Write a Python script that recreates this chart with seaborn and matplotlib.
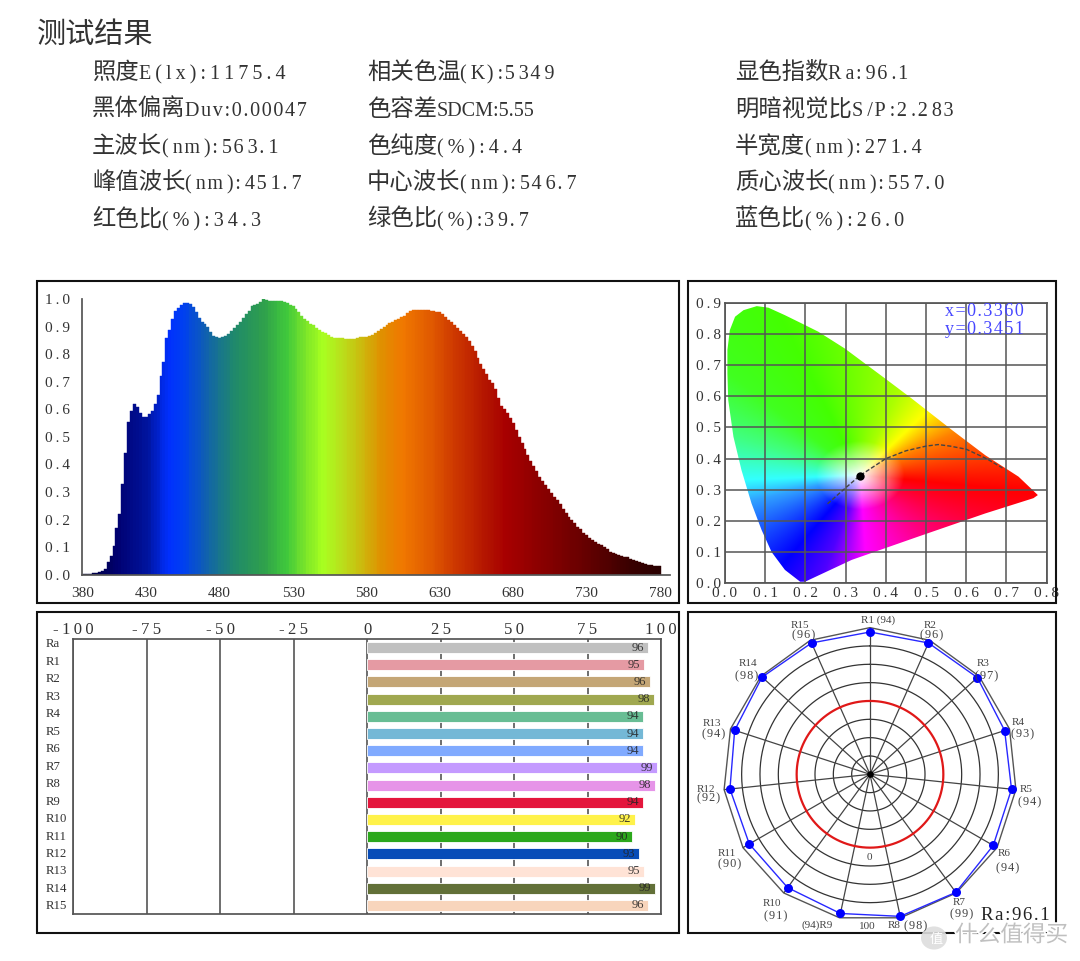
import numpy as np
import seaborn as sns
import matplotlib.pyplot as plt
import matplotlib.patheffects as pe
from matplotlib.colors import LinearSegmentedColormap
from matplotlib.patches import Rectangle, Polygon, Circle

W, H = 1080, 961
HAIR, THIN = '\u200a', '\u2009'

# header table
title = '测试结果'
col1 = ['照度E(lx):1175.4', '黑体偏离Duv:0.00047', '主波长(nm):563.1', '峰值波长(nm):451.7', '红色比(%):34.3']
col2 = ['相关色温(K):5349', '色容差SDCM:5.55', '色纯度(%):4.4', '中心波长(nm):546.7', '绿色比(%):39.7']
col3 = ['显色指数Ra:96.1', '明暗视觉比S/P:2.283', '半宽度(nm):271.4', '质心波长(nm):557.0', '蓝色比(%):26.0']
# letter spacing per row: T thin, M mixed, H hair, N none
col1_sp = 'THMMT'
col2_sp = 'MNTMM'
col3_sp = 'MMMMT'

# spectrum, 2 nm bins from 386 nm
wavelength = list(range(386, 782, 2))
intensity = [
    .000, .001, .002, .004, .005, .006, .008, .012, .020, .045, .068, .105, .168, .220, .330, .440,
    .555, .595, .620, .610, .585, .573, .573, .582, .592, .620, .650, .720, .770, .857, .888, .928,
    .955, .966, .980, .987, .987, .982, .970, .954, .930, .918, .910, .897, .880, .865, .861, .860,
    .861, .867, .873, .885, .895, .906, .918, .930, .945, .958, .973, .980, .983, .990, .999, .995,
    .993, .993, .993, .993, .993, .988, .984, .980, .975, .965, .953, .940, .928, .920, .910, .904,
    .896, .888, .880, .876, .868, .861, .860, .860, .860, .857, .854, .854, .854, .856, .860, .862,
    .862, .863, .866, .870, .877, .884, .892, .898, .904, .913, .918, .923, .928, .934, .940, .950,
    .957, .959, .960, .960, .960, .960, .960, .958, .955, .954, .953, .945, .935, .925, .916, .905,
    .895, .885, .874, .863, .847, .830, .810, .785, .766, .745, .727, .705, .695, .675, .640, .613,
    .600, .587, .567, .549, .526, .500, .478, .457, .434, .414, .394, .376, .355, .340, .327, .312,
    .297, .283, .270, .256, .240, .225, .210, .197, .186, .174, .164, .153, .143, .133, .126, .118,
    .111, .106, .099, .092, .083, .077, .075, .071, .068, .066, .063, .058, .054, .051, .047, .043,
    .040, .036, .034, .033, .033, .033]
spec_nm = [386, 410, 430, 445, 455, 470, 490, 510, 525, 540, 550, 560, 575, 590, 605, 625, 645, 665, 675, 700, 730, 760, 780]
spec_col = ['#000038', '#000070', '#00149e', '#0030ff', '#0040f0', '#1060b0', '#208a6a', '#2fa04c', '#40c83c', '#80e828',
            '#a8ff20', '#b5e81e', '#c9c010', '#e09000', '#f07800', '#e05800', '#c83000', '#b01000', '#a80000', '#8a0000',
            '#660000', '#3a0000', '#2a0000']
spec_ticks = [386.4, 430, 480, 530, 580, 630, 680, 730, 780]
spec_labels = ['380', '430', '480', '530', '580', '630', '680', '730', '780']

# chromaticity diagram
locus_x = [.187, .149, .116, .091, .066, .041, .021, .008, .006, .006, .012, .025, .046, .079, .108, .149, .190, .232, .298,
           .398, .464, .564, .647, .730, .778, .767, .647, .481, .315, .199]
locus_y = [.005, .043, .100, .171, .256, .363, .470, .588, .673, .748, .812, .855, .876, .889, .884, .860, .834, .807, .753,
           .657, .593, .492, .411, .342, .283, .273, .224, .150, .075, .005]
planck_x = [.255, .290, .335, .400, .450, .500, .530, .560, .600, .650, .690]
planck_y = [.255, .295, .345, .400, .425, .440, .445, .440, .430, .400, .370]
cie_x, cie_y = 0.3360, 0.3451
hue_deg = [-7, 30, 51, 71, 111, 135, 158, 183, 197, 236, 254, 273, 310, 331, 353]
hue_col = ['#ff0000', '#ff8000', '#ffff00', '#aaff00', '#44ff00', '#40ff20', '#40ff80', '#33ffff', '#30a0ff',
           '#0000ff', '#5000ff', '#ff00ff', '#ff0080', '#ff0040', '#ff0000']

# colour rendering indices
cri_names = ['Ra'] + [f'R{i}' for i in range(1, 16)]
cri_bars = [95.6, 94.3, 96.3, 97.5, 93.8, 93.8, 93.8, 98.6, 98.1, 93.8, 91.3, 90.0, 92.4, 94.3, 98.1, 95.6]
cri_text = [96, 95, 96, 98, 94, 94, 94, 99, 98, 94, 92, 90, 93, 95, 99, 96]
cri_col = ['#c0c0c0', '#e59aa3', '#c4a676', '#a0a850', '#68bd94', '#74b8d6', '#80aaff', '#c49aff', '#e694e8', '#e4163c',
           '#fff24a', '#2ca81c', '#074cb8', '#ffe3d6', '#627038', '#f8d5bc']
cri_ticks = [-100, -75, -50, -25, 0, 25, 50, 75, 100]

# radar
radar_vals = [94, 96, 97, 93, 94, 94, 99, 98, 94, 91, 90, 92, 94, 98, 96]
radar_labels = [
    (877.7, 620, 'R1 (94)'), (930, 625.7, 'R2'), (931.7, 635.3, '(96)'), (983, 664, 'R3'), (987, 676, '(97)'),
    (1017.7, 722.3, 'R4'), (1022.3, 734, '(93)'), (1025.7, 789, 'R5'), (1029.3, 802, '(94)'), (1003.7, 853.3, 'R6'),
    (1007.3, 868.3, '(94)'), (959.3, 902.7, 'R7'), (961.7, 914.7, '(99)'), (894, 925, 'R8'), (916, 926, '(98)'),
    (817.3, 925, '(94)R9'), (771.7, 903, 'R10'), (776, 916, '(91)'), (727.3, 853, 'R11'), (730, 864.7, '(90)'),
    (705.7, 789, 'R12'), (708.3, 798.7, '(92)'), (712.3, 723, 'R13'), (713.3, 734, '(94)'), (747.7, 663.7, 'R14'),
    (746.7, 676, '(98)'), (800.3, 625.7, 'R15'), (803.3, 635.3, '(96)'), (869, 857.3, '0'), (867.7, 926.7, '100')]

sns.set_theme(style='white')
plt.rcParams['font.family'] = ['Liberation Serif', 'Noto Sans CJK SC', 'DejaVu Sans']
plt.rcParams['axes.edgecolor'] = '#555555'
plt.rcParams['text.color'] = '#333333'
plt.rcParams['xtick.color'] = '#333333'
plt.rcParams['ytick.color'] = '#333333'

fig = plt.figure(figsize=(W / 100, H / 100), dpi=100)


def box(x0, y0, x1, y1):
    return [x0 / W, 1 - y1 / H, (x1 - x0) / W, (y1 - y0) / H]


def txt(x, y, s, **kw):
    kw.setdefault('ha', 'left')
    kw.setdefault('va', 'center')
    return fig.text(x / W, 1 - y / H, s, **kw)


def track(s, mode='T'):
    # the reference has wide letter spacing on its latin text
    seps = {'T': [THIN], 'H': [HAIR], 'M': [THIN, HAIR], 'N': ['']}[mode]
    out = ''
    for i, a in enumerate(s[:-1]):
        out += a + seps[i % len(seps)]
    return out + s[-1]


def frame(x0, y0, x1, y1):
    fig.add_artist(Rectangle((x0 / W, 1 - y1 / H), (x1 - x0) / W, (y1 - y0) / H, transform=fig.transFigure,
                             fill=False, ec='#111111', lw=1.5))


# header
txt(37, 43, title, fontsize=21, va='baseline')
CJK_PX = 23.3
for xpos, col, spacing in zip([92, 367, 735], [col1, col2, col3], [col1_sp, col2_sp, col3_sp]):
    for ypos, s, mode in zip([79, 116, 153, 189, 226], col, spacing):
        n = next(i for i, c in enumerate(s) if ord(c) < 128)
        txt(xpos, ypos, s[:n], fontsize=16.8, va='baseline')
        txt(xpos + n * CJK_PX, ypos, track(s[n:], mode), fontsize=14.5, va='baseline')

frame(37, 281, 679, 603)
frame(688, 281, 1056, 603)
frame(37, 612, 679, 933)
frame(688, 612, 1056, 933)

# spectrum
ax1 = fig.add_axes(box(82.3, 299, 670, 574.7))
cmap = LinearSegmentedColormap.from_list('spec', [((n - 386) / 394, c) for n, c in zip(spec_nm, spec_col)])
palette = [cmap((n - 386) / 394) for n in wavelength]
sns.barplot(x=wavelength, y=intensity, hue=wavelength, palette=palette, native_scale=True, dodge=False,
            width=1, saturation=1, legend=False, ax=ax1)
for p in ax1.patches:
    p.set_edgecolor(p.get_facecolor())
    p.set_linewidth(0.3)
ax1.set_xlim(386.4, 786.8)
ax1.set_ylim(0, 1)
ax1.spines[['top', 'right']].set_visible(False)
ax1.set_xticks(spec_ticks, spec_labels, fontsize=11)
ax1.set_yticks(np.arange(0, 1.01, 0.1), [track(f'{v:.1f}') for v in np.arange(0, 1.01, 0.1)], fontsize=11)
ax1.tick_params(axis='x', length=5, width=1, color='#555555', pad=4)
ax1.tick_params(axis='y', length=6.5, width=1, color='#555555', pad=2)

# chromaticity
ax2 = fig.add_axes(box(725, 302.7, 1046.7, 583.3))
gx, gy = np.meshgrid(np.linspace(0, .8, 480), np.linspace(.9, 0, 540))
ang = (np.degrees(np.arctan2(gy - cie_y, gx - cie_x)) + 7) % 360 - 7
stops = np.array([[int(c[i:i + 2], 16) / 255 for i in (1, 3, 5)] for c in hue_col])
rgb = np.dstack([np.interp(ang, hue_deg, stops[:, k]) for k in range(3)])
sat = np.clip(np.hypot(gx - cie_x, gy - cie_y) / 0.11, 0, 1)[..., None]
im = ax2.imshow(1 - sat * (1 - rgb), extent=(0, .8, 0, .9), aspect='auto', zorder=1, interpolation='bilinear')
gamut = Polygon(np.column_stack([locus_x, locus_y]), closed=True, transform=ax2.transData, fc='none', ec='none')
ax2.add_patch(gamut)
im.set_clip_path(gamut)
ax2.set_xlim(0, .8)
ax2.set_ylim(0, .9)
ax2.set_xticks(np.arange(0, .81, .1), [track(f'{v:.1f}') for v in np.arange(0, .81, .1)], fontsize=11)
ax2.set_yticks(np.arange(0, .91, .1), [track(f'{v:.1f}') for v in np.arange(0, .91, .1)], fontsize=11)
ax2.tick_params(length=0, pad=3)
ax2.grid(True, color='#555555', lw=1.1, zorder=2)
ax2.set_axisbelow(False)
sns.lineplot(x=planck_x, y=planck_y, sort=False, estimator=None, color='#444444', lw=1, ls=(0, (3, 1.5)), zorder=3, ax=ax2)
sns.scatterplot(x=[cie_x], y=[cie_y], color='black', s=36, zorder=4, linewidth=0, ax=ax2)
txt(945, 311, track(f'x={cie_x:.4f}', 'H'), fontsize=13, color='#4646ff')
txt(945, 330, track(f'y={cie_y:.4f}', 'H'), fontsize=13, color='#4646ff')

# colour rendering bars
ax3 = fig.add_axes(box(73.3, 639, 661, 914))
sns.barplot(x=cri_bars, y=cri_names, hue=cri_names, palette=cri_col, orient='h', width=0.64, dodge=False,
            saturation=1, legend=False, edgecolor='white', linewidth=0.6, zorder=3, ax=ax3)
ax3.set_xlim(-100, 100)
ax3.set_ylim(15.5, -0.5)
ax3.xaxis.tick_top()
ax3.set_xticks(cri_ticks, [track(str(v)) for v in cri_ticks], fontsize=12)
ax3.set_yticks(np.linspace(-0.27, 14.97, 16), cri_names, fontsize=9.2, ha='left')
ax3.tick_params(axis='x', length=0, pad=0.5)
ax3.tick_params(axis='y', length=0, pad=19.7)
ax3.grid(True, axis='x', color='#555555', lw=1.2, zorder=1)
ax3.set_axisbelow(True)
for i, (b, t) in enumerate(zip(cri_bars, cri_text)):
    ax3.text(b - 1.3, i, str(t), ha='right', va='center', fontsize=9, color='#222222', alpha=.85, zorder=5)

# radar, value scale runs from -100 at the centre to 100 on the rim
ax4 = fig.add_axes(box(723.3, 627.6, 1016.7, 921), projection='polar')
ax4.set_theta_zero_location('N')
ax4.set_theta_direction(-1)
ax4.set_ylim(-100, 100)
ax4.axis('off')
angles = np.radians(np.arange(15) * 24)
circle = np.linspace(0, 2 * np.pi, 241)
for r in [-75, -50, -25, 25, 50, 75]:
    ax4.plot(circle, np.full_like(circle, r), color='#333333', lw=0.9, zorder=1)
ax4.plot(circle, np.zeros_like(circle), color='#e01818', lw=1.6, zorder=2)
ax4.plot(np.append(angles, angles[0]), np.full(16, 100), color='#555555', lw=1, clip_on=False, zorder=1)
for a in angles:
    ax4.plot([a, a], [-100, 100], color='#444444', lw=0.9, zorder=1)
ax4.scatter([0], [-100], color='black', s=14, zorder=3)
sns.lineplot(x=np.append(angles, angles[0]), y=radar_vals + radar_vals[:1], sort=False, estimator=None,
             color='#2828ff', lw=1, zorder=4, ax=ax4)
sns.scatterplot(x=angles, y=radar_vals, color='#0000ff', s=42, linewidth=0, zorder=5, clip_on=False, ax=ax4)
ax4.set_xlabel('')
ax4.set_ylabel('')
for x, y, s in radar_labels:
    if s.startswith('(') and len(s) == 4:
        txt(x, y, track(s, 'H'), fontsize=8.8, ha='center', color='#444444')
    else:
        txt(x, y, s, fontsize=8, ha='center', color='#444444')
txt(1015, 915, track('Ra:96.1', 'H'), fontsize=13.5, ha='center', color='#222222')

# site watermark across the bottom right corner
halo = [pe.withStroke(linewidth=2.5, foreground='white')]
fig.add_artist(Circle((934 / W, 1 - 938 / H), 13 / W, transform=fig.transFigure, fc='#dddddd', ec='none', alpha=.9))
txt(936, 940, '值', fontsize=9.5, ha='center', color='white', family='Noto Sans CJK SC')
txt(955, 935, '什么值得买', fontsize=16.3, color='#c0c0c0', family='Noto Sans CJK SC', path_effects=halo)

fig.savefig('out.png', dpi=100)
